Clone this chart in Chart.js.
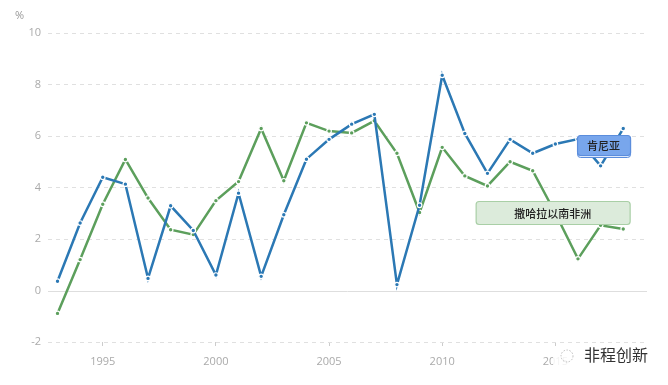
<!DOCTYPE html>
<html><head><meta charset="utf-8">
<script src="https://cdn.jsdelivr.net/npm/chart.js@4.4.1/dist/chart.umd.min.js"></script>
<style>html,body{margin:0;padding:0;background:#fff}#w{width:668px;height:385px;position:relative}</style>
</head><body><div id="w"><canvas id="c" width="668" height="385"></canvas></div>
<script>
const years = [1993,1994,1995,1996,1997,1998,1999,2000,2001,2002,2003,2004,2005,2006,2007,2008,2009,2010,2011,2012,2013,2014,2015,2016,2017,2018];
const kenya = [0.36,2.62,4.40,4.13,0.47,3.29,2.33,0.60,3.78,0.55,2.94,5.10,5.87,6.46,6.84,0.23,3.31,8.36,6.10,4.55,5.87,5.33,5.69,5.88,4.84,6.29];
const ssa = [-0.89,1.20,3.35,5.09,3.59,2.36,2.17,3.49,4.23,6.29,4.26,6.51,6.19,6.12,6.59,5.33,3.03,5.56,4.45,4.06,5.00,4.65,3.00,1.23,2.53,2.39];
const xTicks = [1995,2000,2005,2010,2015];
const seriesNames = ['肯尼亚','撒哈拉以南非洲'];
const unitLabel = '%';
const watermark = '非程创新';

const BLUE = '#2b78b4', GREEN = '#5c9f5c';
const toXY = arr => arr.map((v,i)=>({x:years[i], y:v}));

const zeroLine = {
  id:'zeroLine',
  beforeDatasetsDraw(chart){
    const {ctx, chartArea:a, scales:{y}} = chart;
    const py = Math.round(y.getPixelForValue(0)) + 0.5;
    ctx.save();
    ctx.fillStyle='#fff'; ctx.fillRect(a.left, py-1.5, a.right-a.left, 3);
    ctx.strokeStyle='#dedede'; ctx.lineWidth=1;
    ctx.beginPath(); ctx.moveTo(a.left, py); ctx.lineTo(a.right, py); ctx.stroke();
    ctx.restore();
  }
};

const labelPlugin = {
  id:'labels',
  afterDatasetsDraw(chart){
    const {ctx, scales:{x,y}} = chart;
    ctx.save();
    ctx.font = '11px "Open Sans"';
    ctx.fillStyle = '#999';
    ctx.textAlign = 'left'; ctx.textBaseline = 'middle';
    ctx.fillText(unitLabel, 15, 16);
    const boxes = [
      {t:seriesNames[0], cx:x.getPixelForValue(2017.13), cy:y.getPixelForValue(5.65), w:53, h:20, fill:'#78a6ec', stroke:'#5b8ddc', shadow:true},
      {t:seriesNames[1], cx:x.getPixelForValue(2014.88), cy:y.getPixelForValue(3.03), w:154, h:23, fill:'#dcebdb', stroke:'#a9cfa6', shadow:false}
    ];
    boxes.forEach(b=>{
      const l=b.cx-b.w/2, t=b.cy-b.h/2;
      if(b.shadow){
        ctx.fillStyle='#dce8fb'; ctx.strokeStyle=b.stroke; ctx.lineWidth=1;
        ctx.beginPath(); ctx.roundRect(l+0.5,t+2.5,b.w,b.h,3); ctx.fill(); ctx.stroke();
      }
      ctx.fillStyle=b.fill; ctx.strokeStyle=b.stroke; ctx.lineWidth=1.2;
      ctx.beginPath(); ctx.roundRect(l+0.5,t+0.5,b.w,b.h,3); ctx.fill(); ctx.stroke();
      ctx.fillStyle='#222'; ctx.font='500 11px "Noto Sans CJK SC"';
      ctx.textAlign='center'; ctx.textBaseline='middle';
      ctx.fillText(b.t, b.cx, b.cy+1);
    });
    // watermark
    ctx.fillStyle='rgba(255,255,255,0.85)';
    ctx.fillRect(553,346,100,22);
    ctx.strokeStyle='#bbb'; ctx.lineWidth=1; ctx.setLineDash([1.5,1.5]);
    ctx.beginPath(); ctx.arc(567,356,6,0,Math.PI*2); ctx.stroke();
    ctx.setLineDash([]);
    ctx.fillStyle='#333'; ctx.font='16px "Noto Sans CJK SC"';
    ctx.textAlign='left'; ctx.textBaseline='middle';
    ctx.fillText(watermark, 584, 355);
    ctx.restore();
  }
};

new Chart(document.getElementById('c'), {
  type:'line',
  data:{datasets:[
    {label:seriesNames[0], data:toXY(kenya), borderColor:BLUE, backgroundColor:BLUE, borderWidth:2.5,
     pointRadius:2.3, pointBackgroundColor:BLUE, pointBorderColor:'#fff', pointBorderWidth:1.2, tension:0},
    {label:seriesNames[1], data:toXY(ssa), borderColor:GREEN, backgroundColor:GREEN, borderWidth:2.5,
     pointRadius:2.3, pointBackgroundColor:GREEN, pointBorderColor:'#fff', pointBorderWidth:1.2, tension:0}
  ]},
  options:{
    responsive:false, animation:false,
    layout:{padding:{top:33,right:21,left:0,bottom:0}},
    plugins:{legend:{display:false}, tooltip:{enabled:false}},
    scales:{
      x:{type:'linear', min:1992.58, max:2019.05,
        afterBuildTicks(s){ s.ticks = xTicks.map(v=>({value:v})); },
        afterFit(s){ s.height = 43; },
        border:{display:false},
        grid:{drawOnChartArea:false, drawTicks:true, tickLength:4, color:'#ccc'},
        ticks:{color:'#aaa', font:{family:'Open Sans', size:11}, padding:9, maxRotation:0, callback:v=>String(v)}
      },
      y:{min:-2, max:10,
        afterFit(s){ s.width = 48; },
        border:{display:false, dash:[4,4]},
        grid:{drawTicks:false, color:'#e0e0e0', lineWidth:1},
        ticks:{stepSize:2, color:'#aaa', font:{family:'Open Sans', size:11}, padding:7}
      }
    }
  },
  plugins:[zeroLine, labelPlugin]
});
</script>
</body></html>
